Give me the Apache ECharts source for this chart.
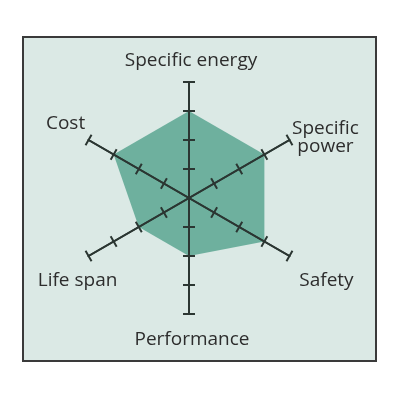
<!DOCTYPE html>
<html>
<head>
<meta charset="utf-8">
<script src="https://cdn.jsdelivr.net/npm/echarts@6/dist/echarts.min.js"></script>
<style>
  html, body { margin: 0; padding: 0; background: #fff; }
  #chart { width: 400px; height: 400px; }
</style>
</head>
<body>
<div id="chart"></div>
<script>
// axes, counter-clockwise from the top (ECharts radar order)
var indicators = ['Specific energy', 'Cost', 'Life span', 'Performance', 'Safety', 'Specific power']
var scores = [3, 3, 2, 2, 3, 3]
var maxScore = 4
var tickValues = [1, 2, 3, 4]

// label nudges relative to the end of each axis [dx, dy]
var nameShift = {
  'Specific energy': [2, -21],
  'Cost': [-23, -16],
  'Life span': [-11, 25],
  'Performance': [3, 26],
  'Safety': [37, 25],
  'Specific power': [36, -4]
}

var axisColor = '#2b3632'
var fillColor = '#6eb09e'

// build rich styles so each label can be nudged by padding
var rich = {}
indicators.forEach(function (name, i) {
  var s = nameShift[name]
  var pad = [
    s[1] > 0 ? s[1] * 2 : 0,
    s[0] < 0 ? -s[0] * 2 : 0,
    s[1] < 0 ? -s[1] * 2 : 0,
    s[0] > 0 ? s[0] * 2 : 0
  ]
  rich['n' + i] = {
    fontFamily: 'Open Sans',
    fontSize: 19,
    lineHeight: 22,
    color: '#2d2d2d',
    align: 'center',
    padding: pad
  }
})
// two-line label: vertical shift is split over two lines
rich.sp1 = Object.assign({}, rich.n5, { padding: [0, 0, 0, nameShift['Specific power'][0] * 2] })
rich.sp2 = Object.assign({}, rich.n5, { padding: [0, 0, 8, nameShift['Specific power'][0] * 2] })

// two radars on top of each other: one draws ticks on one side, the other on the opposite side
function radarBase(tickLen, showNames) {
  return {
    center: [189, 198],
    radius: 116,
    startAngle: 90,
    splitNumber: 4,
    z: 3,
    indicator: indicators.map(function (n) { return { name: n, max: maxScore, min: 0 } }),
    nameGap: 0,
    axisName: {
      show: showNames,
      align: 'center',
      verticalAlign: 'middle',
      formatter: function (value) {
        var i = indicators.indexOf(value)
        if (value === 'Specific power') return '{sp1|Specific}\n{sp2|power}'
        return '{n' + i + '|' + value + '}'
      },
      rich: rich
    },
    axisLine: { lineStyle: { color: axisColor, width: 2 } },
    axisTick: { show: true, customValues: tickValues, length: tickLen, lineStyle: { color: axisColor, width: 2 } },
    axisLabel: { show: false },
    splitLine: { show: false },
    splitArea: { show: false }
  }
}

var chart = echarts.init(document.getElementById('chart'))
chart.setOption({
  backgroundColor: '#fff',
  animation: false,
  graphic: [
    {
      type: 'rect',
      z: -10,
      shape: { x: 23, y: 37, width: 353, height: 324 },
      style: { fill: '#dbe9e5', stroke: '#3a3a3a', lineWidth: 2 }
    }
  ],
  radar: [radarBase(6, true), radarBase(-6, false)],
  series: [
    {
      type: 'radar',
      radarIndex: 0,
      z: 1,
      symbol: 'none',
      lineStyle: { width: 0 },
      areaStyle: { color: fillColor, opacity: 1 },
      data: [{ value: scores }]
    }
  ]
})
</script>
</body>
</html>
